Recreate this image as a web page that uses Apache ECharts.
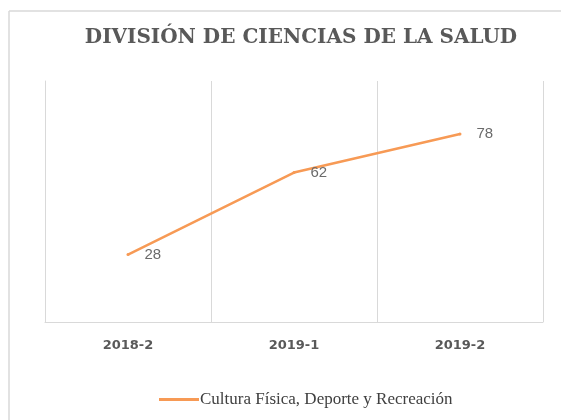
<!DOCTYPE html>
<html><head><meta charset="utf-8">
<script src="https://cdn.jsdelivr.net/npm/echarts@6/dist/echarts.min.js"></script>
<style>html,body{margin:0;padding:0;background:#fff}#c{width:561px;height:420px}</style>
</head><body><div id="c"></div>
<script>
const titleText = 'DIVISIÓN DE CIENCIAS DE LA SALUD';
const categories = ['2018-2', '2019-1', '2019-2'];
const seriesName = 'Cultura Física, Deporte y Recreación';
const values = [28, 62, 78];

const chart = echarts.init(document.getElementById('c'));
chart.setOption({
  animation: false,
  backgroundColor: '#fff',
  title: {
    text: titleText, left: 296, textAlign: 'center', top: 23,
    textStyle: { fontFamily: 'DejaVu Serif', fontWeight: 'bold', fontSize: 20, color: '#595959' }
  },
  legend: {
    bottom: 7, left: 154, itemWidth: 40, itemHeight: 3, itemGap: 0,
    icon: 'rect',
    textStyle: { fontFamily: 'Liberation Serif', fontSize: 17, color: '#404040', padding: [0,0,0,-4] },
    data: [seriesName]
  },
  graphic: [
    { type: 'line', shape: { x1: 9, y1: 11, x2: 561, y2: 11 }, style: { stroke: '#d9d9d9', lineWidth: 1.5 } },
    { type: 'line', shape: { x1: 9, y1: 11, x2: 9, y2: 420 }, style: { stroke: '#d9d9d9', lineWidth: 1.5 } }
  ],
  grid: { left: 45, right: 18, top: 81, bottom: 98 },
  xAxis: {
    type: 'category', data: categories, boundaryGap: true,
    axisLine: { lineStyle: { color: '#d9d9d9', width: 1 } },
    axisTick: { show: false },
    axisLabel: { margin: 17, fontFamily: 'DejaVu Sans', fontWeight: 'bold', fontSize: 13, color: '#595959' },
    splitLine: { show: true, lineStyle: { color: '#d9d9d9', width: 1 } }
  },
  yAxis: {
    type: 'value', min: 0, max: 100, interval: 20,
    axisLine: { show: true, lineStyle: { color: '#d9d9d9' } },
    axisTick: { show: false }, axisLabel: { show: false },
    splitLine: { show: false }
  },
  series: [{
    name: seriesName, type: 'line', data: values,
    symbol: 'circle', symbolSize: 3, showSymbol: true,
    lineStyle: { color: '#F79A55', width: 2.5 },
    itemStyle: { color: '#F79A55' },
    label: { show: true, position: 'right', distance: 15, fontFamily: 'Liberation Sans', fontSize: 15, color: '#6b6b6b' }
  }]
});
</script></body></html>
